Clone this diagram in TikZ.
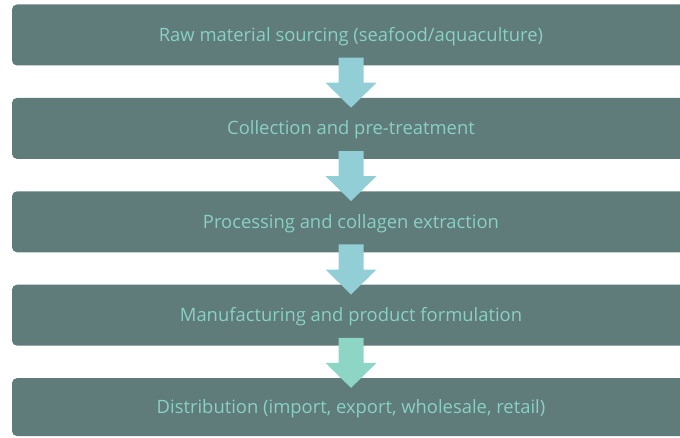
\documentclass[tikz,border=0pt]{standalone}
\usepackage{fontspec}
\setmainfont{Open Sans}
\usepackage{tikz}
\usetikzlibrary{positioning}
\definecolor{boxfill}{HTML}{5F7B7A}
\definecolor{boxtext}{HTML}{8AD0C4}
\definecolor{arrowblue}{HTML}{92CED6}
\definecolor{arrowgreen}{HTML}{8DD6C6}

\begin{document}
\begin{tikzpicture}[x=1pt,y=1pt,
    stage/.style={fill=boxfill,text=boxtext,rounded corners=5pt,minimum width=678pt,minimum height=61pt,inner sep=0pt,
        text height=13pt,text depth=0pt,font=\fontsize{18.4}{21}\selectfont},
    node distance=32pt]
                \useasboundingbox (0,0) rectangle (680,437);
                \clip (0,0) rectangle (680,437);
                \node[stage] (b1) at (351,402) {Raw material sourcing (seafood/aquaculture)};
                \node[stage, below=of b1] (b2) {Collection and pre-treatment};
                \node[stage, below=of b2] (b3) {Processing and collagen extraction};
                \node[stage, below=of b3] (b4) {Manufacturing and product formulation};
                \node[stage, below=of b4, minimum height=58pt] (b5) {Distribution (import, export, wholesale, retail)};
            
                \foreach \i/\c in {1/arrowblue,2/arrowblue,3/arrowblue,4/arrowgreen}{
                    \fill[\c] ([shift={(-12.5,8)}]b\i.south) -- ++(25,0) -- ++(0,-25) -- ++(13,0)
                        -- ++(-25.5,-25) -- ++(-25.5,25) -- ++(13,0) -- cycle;
                }
            \end{tikzpicture}
\end{document}
